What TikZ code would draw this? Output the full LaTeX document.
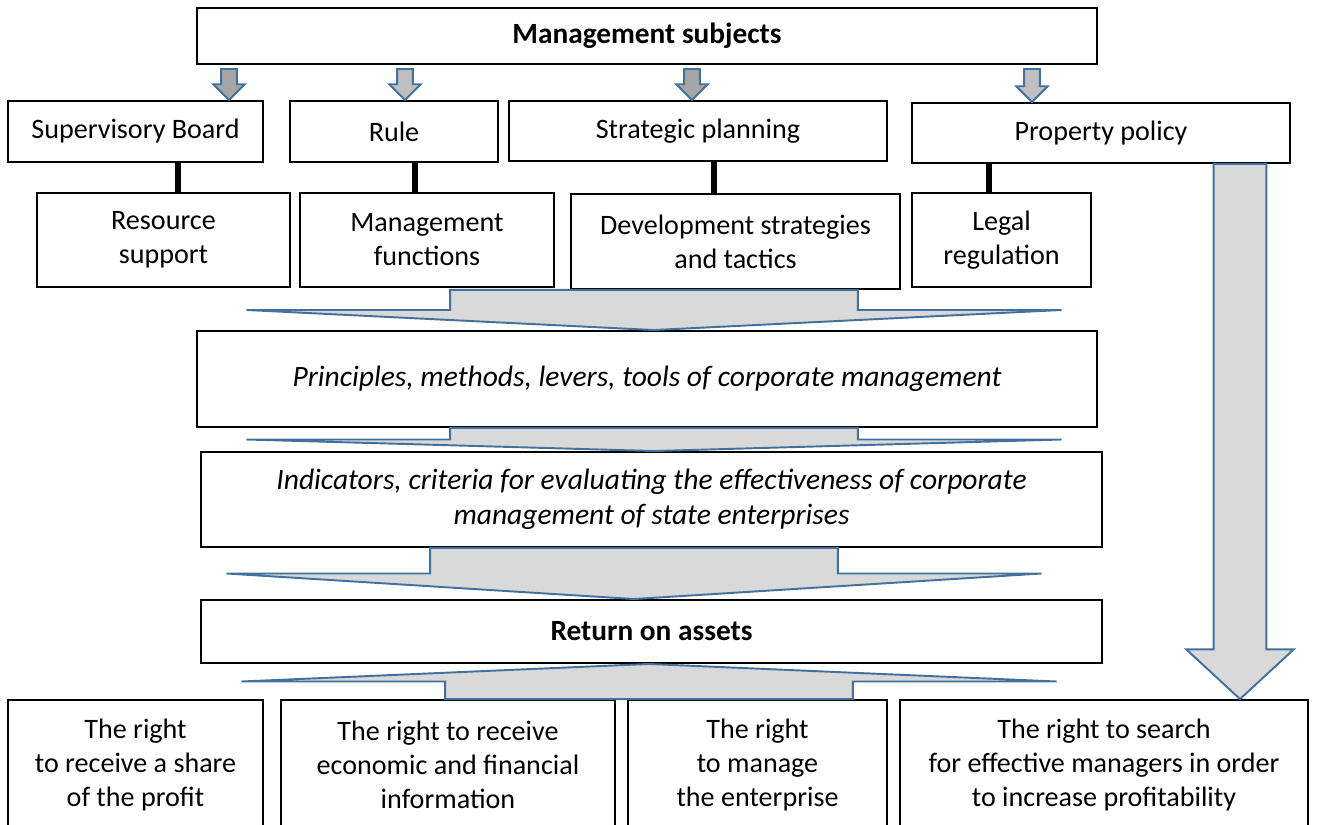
\documentclass[tikz,border=0pt]{standalone}
\usepackage{fontspec}
\setmainfont{Carlito}
\usetikzlibrary{positioning,calc}
\definecolor{arrowblue}{HTML}{41719C}
\definecolor{arrowgrey}{HTML}{D9D9D9}
\definecolor{arrowdark}{HTML}{A6A6A6}
\definecolor{arrowmid}{HTML}{BFBFBF}
\tikzset{
    every node/.style={font=\fontsize{16}{19.3}\selectfont},
    box/.style={draw=black,line width=1.1pt,fill=white,align=center,inner sep=2pt},
    titlebox/.style={box,font=\fontsize{16.7}{20}\selectfont\bfseries},
    notebox/.style={box,font=\fontsize{16.8}{20}\selectfont\itshape},
    link/.style={draw=black,line width=3.4pt},
    blockarrow/.style={draw=arrowblue,line width=1.1pt,fill=arrowgrey,line join=miter}
}
% small block arrow: fill, x, upper node, lower node
\newcommand{\smallarrow}[4][arrowdark]{%
  \path[blockarrow,fill=#1] let \p1=(#3.south -| #2,0), \p2=(#4.north -| #2,0) in
    (\x1-4.5pt,\y1-2.3pt) -- (\x1+4.5pt,\y1-2.3pt) -- (\x1+4.5pt,\y2+9pt)
    -- (\x1+9pt,\y2+9pt) -- (\p2) -- (\x1-9pt,\y2+9pt) -- (\x1-4.5pt,\y2+9pt) -- cycle;}
% wide flat block arrow: tail anchor, tip anchor, x
\newcommand{\widearrow}[3]{%
  \path[blockarrow] let \p1=(#1 -| #3,0), \p2=(#2 -| #3,0), \n1={0.5*(\y1+\y2)} in
    (\x1-116pt,\y1) -- (\x1+116pt,\y1) -- (\x1+116pt,\n1) -- (\x1+232pt,\n1)
    -- (\p2) -- (\x1-232pt,\n1) -- (\x1-116pt,\n1) -- cycle;}

\begin{document}
\begin{tikzpicture}[x=0.02cm,y=-0.02cm]
\useasboundingbox (0,0) rectangle (1330,825);

% subjects
\node[titlebox,minimum width=18cm,minimum height=1.12cm] (subj) at (647,36) {Management subjects};

\node[box,minimum width=5.1cm,minimum height=1.22cm] (sup) at (135.5,131.5) {Supervisory Board};
\node[box,minimum width=4.16cm,minimum height=1.22cm] (rule) at (394,131.5) {Rule};
\node[box,minimum width=7.56cm,minimum height=1.2cm] (strat) at (698,131) {Strategic planning};
\node[box,minimum width=7.56cm,minimum height=1.2cm] (prop) at (1101,133) {Property policy};

\node[box,minimum width=5.06cm,minimum height=1.88cm] (res) at (163.5,240) {Resource\\support};
\node[box,minimum width=5.08cm,minimum height=1.88cm] (func) at (427,240) {Management\\functions};
\node[box,minimum width=6.58cm,minimum height=1.9cm] (dev) at (735.5,241.5) {Development strategies\\and tactics};
\node[box,minimum width=3.58cm,minimum height=1.88cm] (legal) at (1001.5,240) {Legal\\regulation};

% tools and criteria
\node[notebox,minimum width=18cm,minimum height=1.92cm] (princ) at (647,379) {Principles, methods, levers, tools of corporate management};
\node[notebox,minimum width=18.02cm,minimum height=1.9cm] (ind) at (651.5,499.5) {Indicators, criteria for evaluating the effectiveness of corporate\\management of state enterprises};
\node[titlebox,minimum width=18.02cm,minimum height=1.26cm] (ret) at (651.5,631.5) {Return on assets};

% rights
\node[box,minimum width=5.1cm,minimum height=2.6cm] (b1) at (135.5,765) {The right\\to receive a share\\of the profit};
\node[box,minimum width=6.68cm,minimum height=2.6cm] (b2) at (448,765) {The right to receive\\economic and financial\\information};
\node[box,minimum width=5.18cm,minimum height=2.6cm] (b3) at (757.5,765) {The right\\to manage\\the enterprise};
\node[box,minimum width=8.16cm,minimum height=2.6cm] (b4) at (1104,765) {The right to search\\for effective managers in order\\to increase profitability};

% links
\draw[link] (sup.south -| 178,0) -- (res.north -| 178,0);
\draw[link] (rule.south -| 415,0) -- (func.north -| 415,0);
\draw[link] (strat.south -| 714,0) -- (dev.north -| 714,0);
\draw[link] (prop.south -| 989,0) -- (legal.north -| 989,0);

\smallarrow{229}{subj}{sup}
\smallarrow[arrowmid]{405}{subj}{rule}
\smallarrow{692}{subj}{strat}
\smallarrow[arrowmid]{1032}{subj}{prop}

\widearrow{dev.south}{princ.north}{654}
\widearrow{princ.south}{ind.north}{654}
\widearrow{ind.south}{ret.north}{634}
\widearrow{b2.north}{ret.south}{649}

% property policy straight down to the last right
\path[blockarrow] let \p1=(prop.south -| 1240,0), \p2=(b4.north -| 1240,0) in
  (\x1-15pt,\y1) -- (\x1+15pt,\y1) -- (\x1+15pt,\y2+28.3pt) -- (\x1+30.6pt,\y2+28.3pt)
  -- (\p2) -- (\x1-30.6pt,\y2+28.3pt) -- (\x1-15pt,\y2+28.3pt) -- cycle;
\end{tikzpicture}
\end{document}
